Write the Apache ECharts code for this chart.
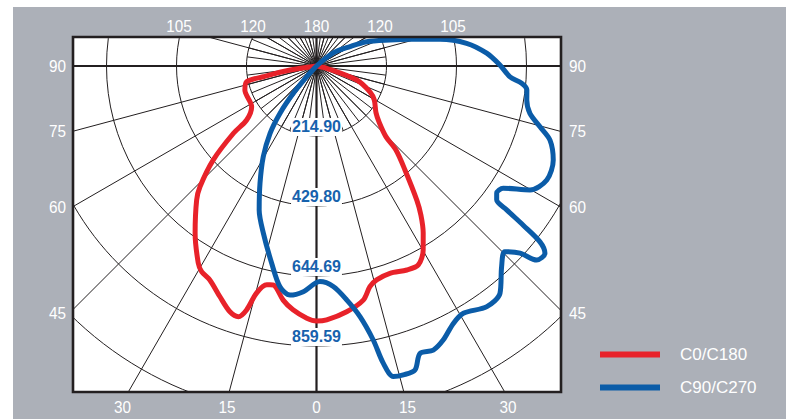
<!DOCTYPE html>
<html><head><meta charset="utf-8">
<script src="https://cdn.jsdelivr.net/npm/echarts@6/dist/echarts.min.js"></script>
<style>html,body{margin:0;padding:0;background:#fff}#c{width:786px;height:419px}</style>
</head><body><div id="c"></div>
<script>
// ---- data (signed gamma: negative = left half, intensity in cd) ----
const seriesNames = ['C0/C180', 'C90/C270'];
const ringStep = 214.8975;
const ringLabels = ['214.90', '429.80', '644.69', '859.59'];

const redGamma = [-85, -81.4, -78.6, -77.3, -71.4, -57.9, -52.3, -51, -47.7, -44, -41.8, -36, -31, -29.2, -26.5, -22.7, -19.4, -17.3, -16, -14.8, -12.8, -11.2, -10.2, -8.1, -5.5, -2.2, 0, 2.3, 7, 11.3, 13.6, 15.7, 19.5, 23.9, 27.1, 30.1, 32.6, 35, 36.8, 40.4, 43.4, 44.5, 47.9, 51.9, 59.5, 64.1, 70.8, 77.3, 85];
const redCd    = [0, 82, 167, 220, 232, 235, 271, 328, 429, 515, 552, 634, 705, 723, 734, 768, 800, 806, 779, 721, 689, 685, 693, 726, 752, 775, 783, 780, 760, 733, 697, 682, 675, 685, 686, 653, 608, 559, 514, 419, 355, 304, 260, 232, 206, 183, 131, 32, 0];

const blueGamma = [-45, -42.5, -40.4, -37.7, -34.6, -30.4, -25.7, -21.7, -17.6, -12.8, -9.4, -6.6, -3.35, 0.9, 4.35, 7.35, 9.85, 11.7, 12.66, 13.9, 15.7, 17.95, 19.8, 22.35, 24.8, 28, 30.7, 35.3, 38.9, 42.7, 45.4, 47.4, 48.6, 50.65, 51.8, 52.4, 52.9, 53.4, 54.8, 56.8, 59.85, 63.65, 68.35, 72.4, 74.8, 77.5, 80.8, 83.5, 85.2, 86.8, 90.3, 94.3, 98.6, 102.2, 105.9, 109.5, 115.8, 120, 128.2, 135];
const blueCd    = [0, 45, 110, 183, 251, 323, 400, 476, 539, 621, 687, 708, 694, 662, 679, 724, 781, 859, 935, 982, 985, 981, 938, 943, 927, 895, 883, 905, 897, 838, 812, 849, 901, 907, 873, 801, 732, 689, 677, 685, 758, 789, 782, 752, 711, 671, 654, 650, 632, 595, 563, 524, 466, 388, 299, 239, 171, 119, 64, 0];

const topTicks = ['105', '120', '180', '120', '105'];
const sideTicks = ['90', '75', '60', '45'];
const bottomTicks = ['30', '15', '0', '15', '30'];

// ---- layout ----
const CX = 316.5, CY = 66, RING_PX = 70;
const PLOT = {x: 73, y: 37, w: 488, h: 355};
const topTickX = [179, 253, 316.5, 380, 453], topTickY = 26;
const sideTickY = [66, 130.5, 207, 313], leftTickX = 66, rightTickX = 569;
const bottomTickX = [122.5, 227, 316.5, 407.5, 508], bottomTickY = 406.5;
const GRAY = '#acb0b8', INK = '#231f20';
const FONT = "'Liberation Sans Narrow', 'Liberation Sans', Arial, sans-serif";

const toAngle = g => (g < 0 ? 360 + g : g);
const pts = (gs, vs) => gs.map((g, i) => [vs[i], toAngle(g)]);

const texts = [];
const txt = (s, x, y, align) => texts.push({
  type: 'text', z: 52, x: x, y: y, scaleX: 0.9,
  style: {text: s, fill: '#fff', font: '17px ' + FONT, align: align, verticalAlign: 'middle'}
});
topTicks.forEach((s, i) => txt(s, topTickX[i], topTickY, 'center'));
sideTicks.forEach((s, i) => { txt(s, leftTickX, sideTickY[i], 'right'); txt(s, rightTickX, sideTickY[i], 'left'); });
bottomTicks.forEach((s, i) => txt(s, bottomTickX[i], bottomTickY, 'center'));

const angleBase = (idx, interval, width, z) => ({
  polarIndex: idx, type: 'value', min: 0, max: 360, interval: interval,
  startAngle: 270, clockwise: false, z: z,
  axisLine: {show: false}, axisTick: {show: false}, axisLabel: {show: false},
  splitLine: {show: true, lineStyle: {color: INK, width: width}}
});

const chart = echarts.init(document.getElementById('c'), null, {renderer: 'svg'});
chart.setOption({
  animation: false,
  backgroundColor: '#ffffff',
  polar: [
    {center: [CX, CY], radius: RING_PX * 6},
    {center: [CX, CY], radius: RING_PX},
    {center: [CX, CY], radius: RING_PX * 6}
  ],
  angleAxis: [angleBase(0, 15, 1, 1), angleBase(1, 7.5, 1, 1), angleBase(2, 90, 2.2, 3)],
  radiusAxis: [
    {polarIndex: 0, type: 'value', min: 0, max: ringStep * 6, interval: ringStep, z: 4,
     axisLine: {show: false}, axisTick: {show: false},
     splitLine: {show: true, lineStyle: {color: INK, width: 1}},
     axisLabel: {show: true, showMinLabel: false, margin: 0, align: 'center', verticalAlign: 'bottom',
       color: '#1762ad', fontSize: 16, fontWeight: 'bold', fontFamily: FONT, backgroundColor: '#fff', padding: [0, 1, 2, 1],
       formatter: v => ringLabels[Math.round(v / ringStep) - 1] || ''}},
    {polarIndex: 1, type: 'value', show: false, min: 0, max: 1},
    {polarIndex: 2, type: 'value', show: false, min: 0, max: 1}
  ],
  legend: {
    orient: 'vertical', left: 595, top: 341, itemWidth: 60, itemHeight: 6, icon: 'rect', itemGap: 16, z: 60,
    data: seriesNames,
    textStyle: {color: '#fff', fontSize: 17, fontFamily: FONT, padding: [0, 0, 0, 15]}
  },
  series: [
    {name: seriesNames[0], type: 'line', coordinateSystem: 'polar', polarIndex: 0, z: 5,
     symbol: 'none', smooth: 0.3, color: '#e8222a', lineStyle: {width: 5, color: '#e8222a'},
     data: pts(redGamma, redCd)},
    {name: seriesNames[1], type: 'line', coordinateSystem: 'polar', polarIndex: 0, z: 5,
     symbol: 'none', smooth: 0.3, color: '#0b5ca8', lineStyle: {width: 5, color: '#0b5ca8'},
     data: pts(blueGamma, blueCd)}
  ],
  graphic: {elements: [
    {type: 'rect', z: -10, shape: {x: 13, y: 7, width: 773, height: 412}, style: {fill: GRAY}},
    {type: 'rect', z: -9, shape: {x: PLOT.x, y: PLOT.y, width: PLOT.w, height: PLOT.h}, style: {fill: '#fff'}},
    {type: 'rect', z: 50, shape: {x: 0, y: 0, width: 786, height: 7}, style: {fill: '#fff'}},
    {type: 'rect', z: 50, shape: {x: 0, y: 0, width: 13, height: 419}, style: {fill: '#fff'}},
    {type: 'rect', z: 50, shape: {x: 13, y: 7, width: 773, height: PLOT.y - 7}, style: {fill: GRAY}},
    {type: 'rect', z: 50, shape: {x: 13, y: PLOT.y + PLOT.h, width: 773, height: 419 - PLOT.y - PLOT.h}, style: {fill: GRAY}},
    {type: 'rect', z: 50, shape: {x: 13, y: 7, width: PLOT.x - 13, height: 412}, style: {fill: GRAY}},
    {type: 'rect', z: 50, shape: {x: PLOT.x + PLOT.w, y: 7, width: 786 - PLOT.x - PLOT.w, height: 412}, style: {fill: GRAY}},
    {type: 'rect', z: 51, shape: {x: PLOT.x, y: PLOT.y, width: PLOT.w, height: PLOT.h}, style: {fill: 'none', stroke: INK, lineWidth: 2.6}}
  ].concat(texts)}
});
</script></body></html>
